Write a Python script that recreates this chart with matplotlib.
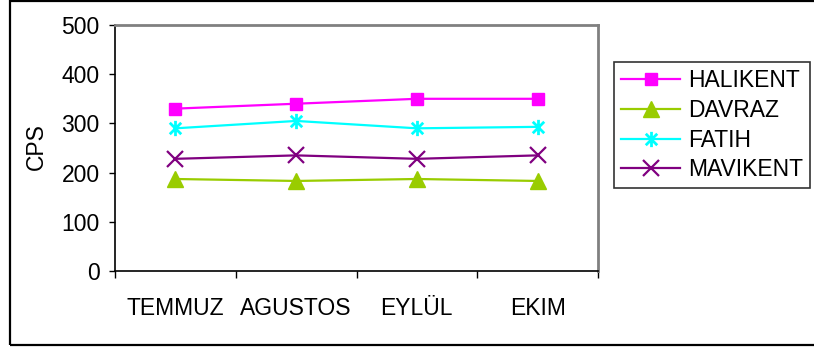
import matplotlib
matplotlib.use("Agg")
import matplotlib.pyplot as plt
from matplotlib.path import Path
from matplotlib.patches import Rectangle

plt.rcParams['font.family'] = ['Liberation Sans', 'DejaVu Sans']

months = ["TEMMUZ", "AGUSTOS", "EYLÜL", "EKIM"]
halikent = [330, 340, 350, 350]
davraz = [187, 183, 187, 183]
fatih = [290, 305, 290, 293]
mavikent = [228, 235, 228, 235]
y_ticks = [0, 100, 200, 300, 400, 500]

# six-spoke asterisk: vertical bar plus an X
star = Path([(0, -1), (0, 1), (-0.75, -0.75), (0.75, 0.75), (-0.75, 0.75), (0.75, -0.75)],
            [Path.MOVETO, Path.LINETO, Path.MOVETO, Path.LINETO, Path.MOVETO, Path.LINETO])

W, H = 814, 350
fig = plt.figure(figsize=(W / 100, H / 100), dpi=100)
ax = fig.add_axes([115 / W, 1 - 271 / H, 483 / W, 246 / H])

x = list(range(1, len(months) + 1))
series = [
    ("HALIKENT", halikent, "#FF00FF", dict(marker="s", markersize=9, markerfacecolor="#FF00FF")),
    ("DAVRAZ", davraz, "#99CC00", dict(marker="^", markersize=11, markerfacecolor="#99CC00")),
    ("FATIH", fatih, "#00FFFF", dict(marker=star, markersize=11, markeredgewidth=2)),
    ("MAVIKENT", mavikent, "#800080", dict(marker="x", markersize=11, markeredgewidth=1.6)),
]
for name, vals, col, mk in series:
    ax.plot(x, vals, color=col, lw=1.6, markeredgecolor=col, label=name, **mk)

ax.set_xlim(0.5, len(months) + 0.5)
ax.set_ylim(0, 500)
ax.set_yticks(y_ticks)
ax.tick_params(axis='y', direction='out', length=4, width=1, pad=7, labelsize=16.5)

ax.set_xticks([i + 0.5 for i in range(0, len(months) + 1)])
ax.set_xticklabels([])
ax.set_xticks(x, minor=True)
ax.set_xticklabels(months, minor=True)
ax.tick_params(axis='x', which='major', direction='out', length=5, width=1)
ax.tick_params(axis='x', which='minor', length=0, pad=19, labelsize=16.5)

for s in ("left", "bottom"):
    ax.spines[s].set_color("black")
    ax.spines[s].set_linewidth(1.2)
for s in ("top", "right"):
    ax.spines[s].set_color("#808080")
    ax.spines[s].set_linewidth(2)

fig.text(36 / W, 1 - 147 / H, "CPS", rotation=90, ha="center", va="center", fontsize=16.5)

leg = fig.legend(loc="upper left", bbox_to_anchor=(614 / W, 1 - 62 / H),
                 frameon=True, fontsize=16.5, handlelength=2.6, handletextpad=0.35,
                 labelspacing=0.3, borderpad=0.3, borderaxespad=0, fancybox=False)
leg.get_frame().set_edgecolor("black")
leg.get_frame().set_linewidth(1.2)

fig.patches.append(Rectangle((9.5 / W, 1 - 345 / H), (W + 5) / W, 344 / H,
                             transform=fig.transFigure, fill=False,
                             edgecolor="black", linewidth=1.6))

fig.savefig("out.png", dpi=100)
